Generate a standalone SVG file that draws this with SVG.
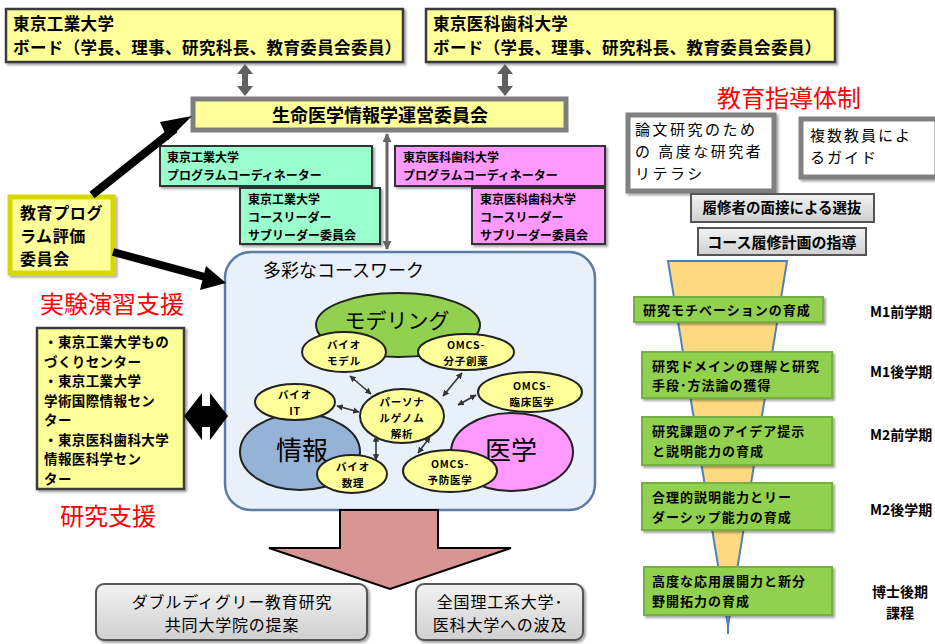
<svg xmlns="http://www.w3.org/2000/svg" width="935" height="644" viewBox="0 0 935 644">
<defs>
<style>
text{font-family:"Noto Sans CJK JP","Noto Sans",sans-serif;fill:#000}
.b{font-weight:bold}
.yb{fill:#FFFF99;stroke:#3a3a3a;stroke-width:2.5}
.mid{fill:#FFFF99;stroke:#7f7f7f;stroke-width:5}
.tq{fill:#99FFCC;stroke:#333;stroke-width:2}
.pk{fill:#FF99FF;stroke:#333;stroke-width:2}
.wb{fill:#fff;stroke:#808080;stroke-width:5}
.gb{fill:#92D050;stroke:#76B043;stroke-width:2}
.ye{fill:#FFFF99;stroke:#222;stroke-width:2}
.gr{fill:url(#gg);stroke:#555;stroke-width:2}
.red{fill:#FF0000}
.et{font-weight:bold;font-size:10.5px;letter-spacing:0.8px;text-anchor:middle}
.st{font-weight:bold;font-size:13px;letter-spacing:1px}
.sa{stroke:#333;stroke-width:1.6;fill:none;marker-start:url(#ah);marker-end:url(#ah)}
</style>
<linearGradient id="gg" x1="0" y1="0" x2="0" y2="1"><stop offset="0" stop-color="#F2F2F2"/><stop offset="1" stop-color="#D0D0D0"/></linearGradient>
<marker id="ah" viewBox="0 0 10 10" refX="9" refY="5" markerWidth="4" markerHeight="4" orient="auto-start-reverse"><path d="M0,0 L10,5 L0,10 z" fill="#333"/></marker>
<marker id="ag" viewBox="0 0 10 10" refX="9" refY="5" markerWidth="3.5" markerHeight="3" orient="auto-start-reverse"><path d="M0,0 L10,5 L0,10 z" fill="#666"/></marker>
<filter id="sh" x="-10%" y="-10%" width="130%" height="130%"><feDropShadow dx="2" dy="2" stdDeviation="1" flood-color="#000" flood-opacity="0.35"/></filter>
</defs>

<g id="board-tit">
<rect class="yb" x="6" y="9" width="397" height="53" filter="url(#sh)"/>
<text class="b" x="13" y="30" font-size="16.5" letter-spacing="0.4">東京工業大学</text>
<text class="b" x="13" y="54" font-size="16.5" letter-spacing="0.4">ボード（学長、理事、研究科長、教育委員会委員）</text>
</g>
<g id="board-tmdu">
<rect class="yb" x="426" y="9" width="409" height="53" filter="url(#sh)"/>
<text class="b" x="433" y="30" font-size="16.5" letter-spacing="0.4">東京医科歯科大学</text>
<text class="b" x="433" y="54" font-size="16.5" letter-spacing="0.4">ボード（学長、理事、研究科長、教育委員会委員）</text>
</g>
<g id="committee">
<rect class="mid" x="193" y="99" width="373" height="31"/>
<text class="b" x="380" y="122" font-size="18" text-anchor="middle">生命医学情報学運営委員会</text>
</g>
<g id="tit-coord">
<rect class="tq" x="160" y="146" width="212" height="40" filter="url(#sh)"/>
<text class="b" x="167" y="162" font-size="12">東京工業大学</text>
<text class="b" x="167" y="180" font-size="12">プログラムコーディネーター</text>
</g>
<g id="tit-course">
<rect class="tq" x="240" y="188" width="140" height="56" filter="url(#sh)"/>
<text class="b" x="248" y="204" font-size="12">東京工業大学</text>
<text class="b" x="248" y="222" font-size="12">コースリーダー</text>
<text class="b" x="248" y="240" font-size="12">サブリーダー委員会</text>
</g>
<g id="tmdu-coord">
<rect class="pk" x="395" y="146" width="210" height="40" filter="url(#sh)"/>
<text class="b" x="403" y="162" font-size="12">東京医科歯科大学</text>
<text class="b" x="403" y="180" font-size="12">プログラムコーディネーター</text>
</g>
<g id="tmdu-course">
<rect class="pk" x="472" y="188" width="133" height="56" filter="url(#sh)"/>
<text class="b" x="480" y="204" font-size="12">東京医科歯科大学</text>
<text class="b" x="480" y="222" font-size="12">コースリーダー</text>
<text class="b" x="480" y="240" font-size="12">サブリーダー委員会</text>
</g>
<g id="eval">
<rect x="10" y="197" width="103" height="76" fill="#FFFF99" stroke="#D8D800" stroke-width="5" filter="url(#sh)"/>
<text class="b" x="20" y="219" font-size="16" letter-spacing="0.6">教育プログ</text>
<text class="b" x="20" y="242" font-size="16" letter-spacing="0.6">ラム評価</text>
<text class="b" x="20" y="265" font-size="16" letter-spacing="0.6">委員会</text>
</g>
<g id="label-jikken">
<text class="red" x="40" y="313" font-size="24">実験演習支援</text>
</g>
<g id="support-centers">
<rect class="yb" x="37" y="328" width="147" height="161" filter="url(#sh)"/>
<text class="b" x="44" y="347" font-size="13.5" letter-spacing="0.4">・東京工業大学もの</text>
<text class="b" x="44" y="366.5" font-size="13.5" letter-spacing="0.4">づくりセンター</text>
<text class="b" x="44" y="386" font-size="13.5" letter-spacing="0.4">・東京工業大学</text>
<text class="b" x="44" y="405.5" font-size="13.5" letter-spacing="0.4">学術国際情報セン</text>
<text class="b" x="44" y="425" font-size="13.5" letter-spacing="0.4">ター</text>
<text class="b" x="44" y="444.5" font-size="13.5" letter-spacing="0.4">・東京医科歯科大学</text>
<text class="b" x="44" y="464" font-size="13.5" letter-spacing="0.4">情報医科学セン</text>
<text class="b" x="44" y="483.5" font-size="13.5" letter-spacing="0.4">ター</text>
</g>
<g id="label-kenkyu">
<text class="red" x="60" y="525" font-size="24">研究支援</text>
</g>

<g id="coursework">
<rect x="225" y="252" width="370" height="258" rx="26" fill="#E8F0FA" stroke="#5B7BA6" stroke-width="2.5"/>
<text x="263" y="277" font-size="18">多彩なコースワーク</text>
</g>
<g id="modeling">
<ellipse cx="398" cy="325" rx="82" ry="32" fill="#92D050" stroke="#222" stroke-width="2"/>
<text x="397" y="328" font-size="21" text-anchor="middle">モデリング</text>
</g>
<g id="joho">
<ellipse cx="300" cy="452" rx="60" ry="38" fill="#95B3D7" stroke="#222" stroke-width="2"/>
<text x="302" y="460" font-size="26" text-anchor="middle">情報</text>
</g>
<g id="igaku">
<ellipse cx="512" cy="452" rx="61" ry="39" fill="#FF99FF" stroke="#222" stroke-width="2"/>
<text x="511" y="460" font-size="26" text-anchor="middle">医学</text>
</g>
<g id="bio-model">
<ellipse class="ye" cx="344" cy="352" rx="42" ry="20"/>
<text class="et" x="344" y="349">バイオ</text>
<text class="et" x="344" y="365">モデル</text>
</g>
<g id="omcs-drug">
<ellipse class="ye" cx="466" cy="352" rx="48" ry="18"/>
<text class="et" x="466" y="349">OMCS-</text>
<text class="et" x="466" y="365">分子創薬</text>
</g>
<g id="bio-it">
<ellipse class="ye" cx="295" cy="402" rx="40" ry="18"/>
<text class="et" x="295" y="399">バイオ</text>
<text class="et" x="295" y="415">IT</text>
</g>
<g id="personal-genome">
<ellipse class="ye" cx="402" cy="416" rx="42" ry="27"/>
<text class="et" x="402" y="406">パーソナ</text>
<text class="et" x="402" y="422">ルゲノム</text>
<text class="et" x="402" y="438">解析</text>
</g>
<g id="omcs-clinical">
<ellipse class="ye" cx="530" cy="392" rx="52" ry="20"/>
<text class="et" x="532" y="390">OMCS-</text>
<text class="et" x="532" y="406">臨床医学</text>
</g>
<g id="bio-math">
<ellipse class="ye" cx="352" cy="474" rx="35" ry="19"/>
<text class="et" x="353" y="471">バイオ</text>
<text class="et" x="353" y="487">数理</text>
</g>
<g id="omcs-prevent">
<ellipse class="ye" cx="450" cy="471" rx="47" ry="21"/>
<text class="et" x="450" y="468">OMCS-</text>
<text class="et" x="450" y="484">予防医学</text>
</g>

<g id="double-degree">
<rect class="gr" x="96" y="584" width="271" height="56" rx="8" filter="url(#sh)"/>
<text x="232" y="607.5" font-size="16" letter-spacing="0.8" text-anchor="middle">ダブルディグリー教育研究</text>
<text x="232" y="631" font-size="16" letter-spacing="0.8" text-anchor="middle">共同大学院の提案</text>
</g>
<g id="spread">
<rect class="gr" x="416" y="584" width="167" height="56" rx="8" filter="url(#sh)"/>
<text x="500" y="607.5" font-size="16" letter-spacing="0.8" text-anchor="middle">全国理工系大学･</text>
<text x="500" y="631" font-size="16" letter-spacing="0.8" text-anchor="middle">医科大学への波及</text>
</g>

<g id="label-shido">
<text class="red" x="717" y="107" font-size="24">教育指導体制</text>
</g>
<g id="literacy">
<rect class="wb" x="628" y="115" width="146" height="76" filter="url(#sh)"/>
<text x="635" y="135" font-size="15" letter-spacing="2.5">論文研究のため</text>
<text x="635" y="157" font-size="15" letter-spacing="2.5">の 高度な研究者</text>
<text x="635" y="179" font-size="15" letter-spacing="2.5">リテラシ</text>
</g>
<g id="multi-guide">
<rect class="wb" x="801" y="119" width="136" height="58" filter="url(#sh)"/>
<text x="810" y="141" font-size="15" letter-spacing="2">複数教員によ</text>
<text x="810" y="163" font-size="15" letter-spacing="2">るガイド</text>
</g>
<g id="selection">
<rect class="gr" x="691" y="194" width="183" height="28" stroke-width="3"/>
<text class="b" x="782" y="213" font-size="14.5" text-anchor="middle">履修者の面接による選抜</text>
</g>
<g id="plan">
<rect class="gr" x="698" y="228" width="168" height="27" stroke-width="3"/>
<text class="b" x="782" y="248" font-size="15" text-anchor="middle">コース履修計画の指導</text>
</g>

<g id="funnel">
<polygon points="668,261 787,261 728,626" fill="#FFD97F" stroke="#4F81BD" stroke-width="2"/>
<line x1="728" y1="620" x2="728" y2="634" stroke="#4F81BD" stroke-width="2"/>
</g>
<g id="stage1">
<rect class="gb" x="634" y="297" width="189" height="25" filter="url(#sh)"/>
<text class="st" x="643" y="314.5">研究モチベーションの育成</text>
</g>
<g id="stage2">
<rect class="gb" x="642" y="352" width="190" height="46" filter="url(#sh)"/>
<text class="st" x="652" y="370.5">研究ドメインの理解と研究</text>
<text class="st" x="652" y="390">手段･方法論の獲得</text>
</g>
<g id="stage3">
<rect class="gb" x="642" y="417" width="190" height="48" filter="url(#sh)"/>
<text class="st" x="652" y="436">研究課題のアイデア提示</text>
<text class="st" x="652" y="455.5">と説明能力の育成</text>
</g>
<g id="stage4">
<rect class="gb" x="642" y="483" width="190" height="47" filter="url(#sh)"/>
<text class="st" x="652" y="502">合理的説明能力とリー</text>
<text class="st" x="652" y="521.5">ダーシップ能力の育成</text>
</g>
<g id="stage5">
<rect class="gb" x="644" y="567" width="188" height="48" filter="url(#sh)"/>
<text class="st" x="652" y="586">高度な応用展開力と新分</text>
<text class="st" x="652" y="605.5">野開拓力の育成</text>
</g>
<g id="terms">
<text class="b" x="870" y="317" font-size="14">M1前学期</text>
<text class="b" x="870" y="377" font-size="14">M1後学期</text>
<text class="b" x="870" y="440" font-size="14">M2前学期</text>
<text class="b" x="870" y="515" font-size="14">M2後学期</text>
<text class="b" x="900" y="597" font-size="14" text-anchor="middle">博士後期</text>
<text class="b" x="900" y="618" font-size="14" text-anchor="middle">課程</text>
</g>

<g id="connectors">
<polygon points="245,64 253,74 248,74 248,86 253,86 245,96 237,86 242,86 242,74 237,74" fill="#606060"/>
<polygon points="505,64 513,74 508,74 508,86 513,86 505,96 497,86 502,86 502,74 497,74" fill="#606060"/>
<line x1="387" y1="134" x2="387" y2="249" stroke="#666" stroke-width="3" marker-start="url(#ag)" marker-end="url(#ag)"/>
<line x1="92" y1="195" x2="175" y2="129" stroke="#000" stroke-width="8"/>
<polygon points="192,116 168,140 160,122" fill="#000"/>
<line x1="113" y1="252" x2="205" y2="277" stroke="#000" stroke-width="8"/>
<polygon points="226,283 200,290 206,266" fill="#000"/>
<polygon points="184,416 202,393 202,406 210,406 210,393 228,416 210,440 210,427 202,427 202,440" fill="#000"/>
<line class="sa" x1="350" y1="376" x2="371" y2="394"/>
<line class="sa" x1="462" y1="373" x2="443" y2="396"/>
<line class="sa" x1="476" y1="395" x2="458" y2="405"/>
<line class="sa" x1="337" y1="406" x2="359" y2="412"/>
<line class="sa" x1="376" y1="436" x2="376" y2="460"/>
<line class="sa" x1="430" y1="437" x2="418" y2="453"/>
<polygon points="340,510 438,510 438,548 511,548 390,589 269,548 340,548" fill="#D99594" stroke="#000" stroke-width="2"/>
</g>
</svg>
